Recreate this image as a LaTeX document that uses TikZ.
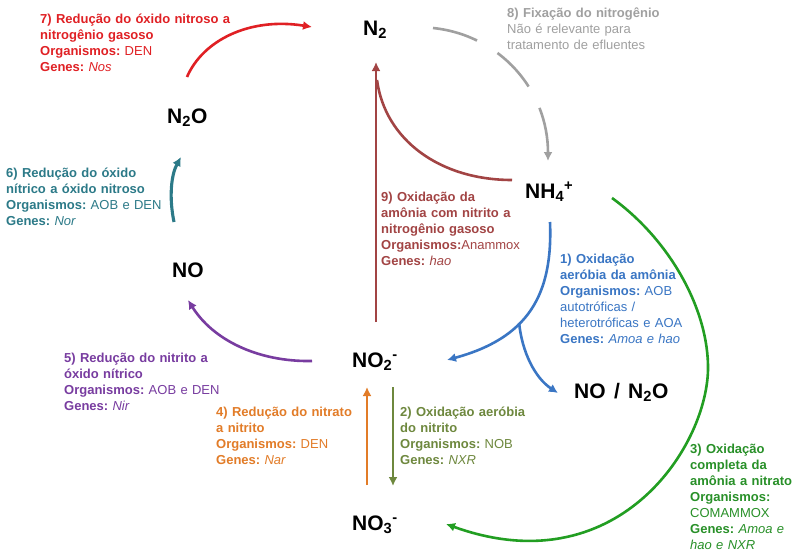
\documentclass[tikz,border=0pt]{standalone}
\usepackage{fontspec}
\setmainfont{Liberation Sans}
\usetikzlibrary{arrows.meta}
\frenchspacing
\definecolor{cred}{RGB}{224,32,36}
\definecolor{cgray}{RGB}{160,160,160}
\definecolor{cteal}{RGB}{44,122,136}
\definecolor{cbrown}{RGB}{162,68,68}
\definecolor{cblue}{RGB}{58,118,196}
\definecolor{cpurple}{RGB}{120,60,160}
\definecolor{corange}{RGB}{226,124,40}
\definecolor{colive}{RGB}{110,136,62}
\definecolor{cgreen}{RGB}{34,158,34}
\definecolor{cgreentext}{RGB}{40,144,40}
\begin{document}
\begin{tikzpicture}[x=1pt,y=-1pt]
\tikzset{
  species/.style={anchor=base west, inner sep=0pt, font=\fontsize{21}{24}\selectfont\bfseries},
  info/.style={anchor=base west, inner sep=0pt, text width=260pt, align=left, font=\fontsize{13}{16}\selectfont\frenchspacing},
  conn/.style={line width=2.6pt, -{Latex[length=9pt,width=9pt]}},
  plain/.style={line width=2.6pt},
}
\useasboundingbox (0,0) rectangle (793,552);
\fill[white] (0,0) rectangle (793,552);

% species
\node[species] (n2)   at (363,35)  {N\textsubscript{2}};
\node[species] (n2o)  at (167,123) {N\textsubscript{2}O};
\node[species] (nh4)  at (525,198) {NH\textsubscript{4}\textsuperscript{+}};
\node[species] (no)   at (172,277) {NO};
\node[species] (no2)  at (352,367) {NO\textsubscript{2}\textsuperscript{-}};
\node[species] (no3)  at (352,530) {NO\textsubscript{3}\textsuperscript{-}};
\node[species] (non2o) at (574,398) {NO\hspace{2.5pt} / \hspace{2.5pt}N\textsubscript{2}O};

% labels
\node[info, text=cred] (t7) at (40,23) {\textbf{7) Redução do óxido nitroso a}\\ \textbf{nitrogênio gasoso}\\ \textbf{Organismos:} DEN\\ \textbf{Genes:} \textit{Nos}};
\node[info, text=cgray] (t8) at (507,17) {\textbf{8) Fixação do nitrogênio}\\ Não é relevante para\\ tratamento de efluentes};
\node[info, text=cteal] (t6) at (6,177) {\textbf{6) Redução do óxido}\\ \textbf{nítrico a óxido nitroso}\\ \textbf{Organismos:} AOB e DEN\\ \textbf{Genes:} \textit{Nor}};
\node[info, text=cbrown] (t9) at (381,201) {\textbf{9) Oxidação da}\\ \textbf{amônia com nitrito a}\\ \textbf{nitrogênio gasoso}\\ \textbf{Organismos:}Anammox\\ \textbf{Genes:} \textit{hao}};
\node[info, text=cblue] (t1) at (560,263) {\textbf{1) Oxidação}\\ \textbf{aeróbia da amônia}\\ \textbf{Organismos:} AOB\\ autotróficas /\\ heterotróficas e AOA\\ \textbf{Genes:} \textit{Amoa e hao}};
\node[info, text=cpurple] (t5) at (64,362) {\textbf{5) Redução do nitrito a}\\ \textbf{óxido nítrico}\\ \textbf{Organismos:} AOB e DEN\\ \textbf{Genes:} \textit{Nir}};
\node[info, text=corange] (t4) at (216,416) {\textbf{4) Redução do nitrato}\\ \textbf{a nitrito}\\ \textbf{Organismos:} DEN\\ \textbf{Genes:} \textit{Nar}};
\node[info, text=colive] (t2) at (400,416) {\textbf{2) Oxidação aeróbia}\\ \textbf{do nitrito}\\ \textbf{Organismos:} NOB\\ \textbf{Genes:} \textit{NXR}};
\node[info, text=cgreentext, text width=110pt] (t3) at (690,453.5) {\textbf{3) Oxidação}\\ \textbf{completa da}\\ \textbf{amônia a nitrato}\\ \textbf{Organismos:}\\ COMAMMOX\\ \textbf{Genes:} \textit{Amoa e}\\ \textit{hao e NXR}};

% connector end points
\coordinate (r1) at (187,77);  \coordinate (r2) at (312,27);
\coordinate (g1) at (433,28);  \coordinate (g2) at (548,161);
\coordinate (b1) at (376,322); \coordinate (b2) at (376,62);
\coordinate (b3) at (512,180); \coordinate (b4) at (377,80);
\coordinate (u1) at (550,222); \coordinate (u2) at (447,360);
\coordinate (u3) at (558,393);
\coordinate (k1) at (612,198); \coordinate (k2) at (446,524);
\coordinate (p1) at (312,361); \coordinate (p2) at (188,300);
\coordinate (e1) at (174,222); \coordinate (e2) at (181,157);
\coordinate (o1) at (367,485); \coordinate (o2) at (367,387);
\coordinate (v1) at (393,387); \coordinate (v2) at (393,486);

% 7
\draw[conn, cred] (r1) .. controls (203,40) and (250,17) .. (r2);
% 8
\draw[conn, cgray, dash pattern=on 46pt off 24pt] (g1) .. controls (500,35) and (548,90) .. (g2);
% 9
\draw[conn, cbrown] (b1) -- (b2);
\draw[plain, cbrown] (b3) .. controls (440,180) and (385,140) .. (b4);
% 1
\draw[conn, cblue] (u1) .. controls (553,295) and (528,338) .. coordinate[pos=0.6] (ub) (u2);
\draw[conn, cblue] (ub) .. controls (522,352) and (535,378) .. (u3);
% 3
\draw[conn, cgreen] (k1) .. controls (670,240) and (709,310) .. (708,370) .. controls (706,450) and (615,585) .. (k2);
% 5
\draw[conn, cpurple] (p1) .. controls (258,362) and (213,340) .. (p2);
% 6
\draw[conn, cteal, line width=3.1pt] (e1) .. controls (169,198) and (171,175) .. (e2);
% 4
\draw[conn, corange] (o1) -- (o2);
% 2
\draw[conn, colive] (v1) -- (v2);
\end{tikzpicture}
\end{document}
